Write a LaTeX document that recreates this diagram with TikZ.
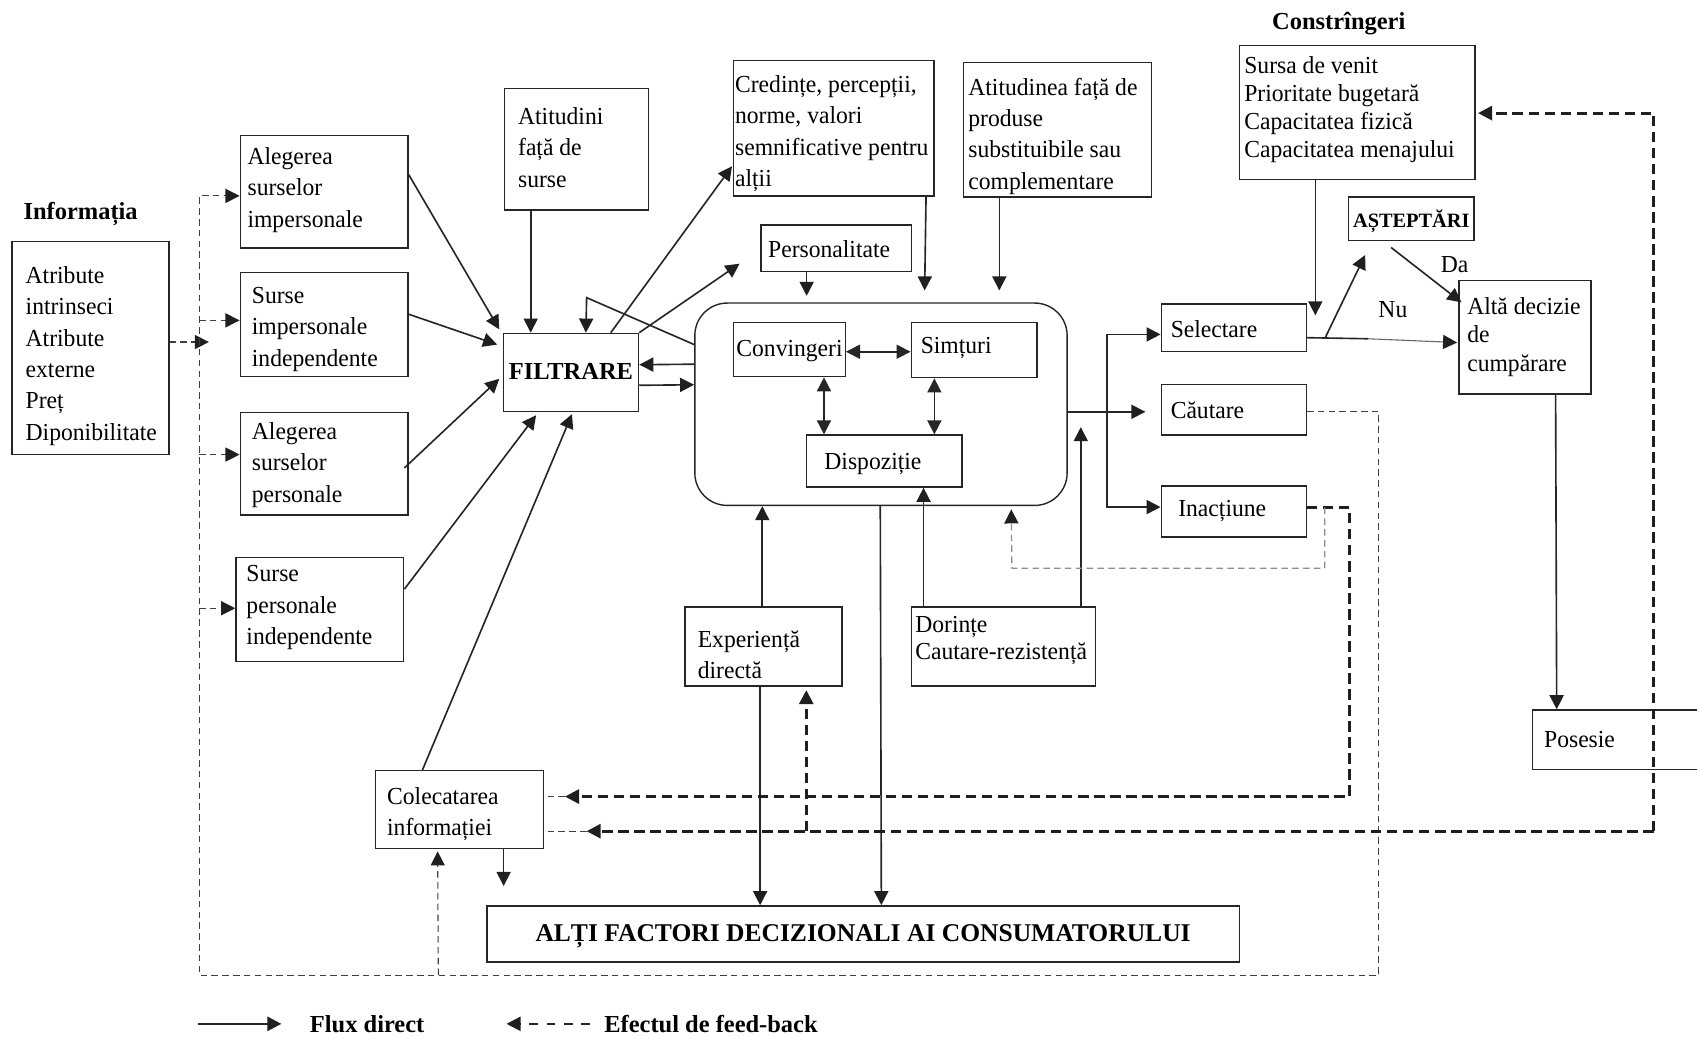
\documentclass[tikz,border=0pt]{standalone}
\usepackage{fontspec}
\setmainfont{Liberation Serif}[UprightFeatures={FakeStretch=0.965}]
\usetikzlibrary{arrows.meta,calc,fit}
\begin{document}
\begin{tikzpicture}[x=0.5pt,y=-0.5pt,
  bx/.style={draw=black!85,line width=0.65pt,inner sep=0pt,rectangle},
  tx/.style={inner sep=0pt,align=left,anchor=west,yshift=-1.2pt,font=\fontsize{11.3pt}{14.5pt}\selectfont},
  tc/.style={inner sep=0pt,align=center,yshift=-1.2pt,font=\fontsize{11.3pt}{14.5pt}\selectfont},
  hd/.style={inner sep=0pt,yshift=-1.2pt,font=\fontsize{11.3pt}{14.5pt}\selectfont\bfseries},
  tip/.style={-{Triangle[length=6.5pt,width=6.5pt,color=black!88]}},
  fl/.style={tip,line width=0.75pt,draw=black!85},
  dbl/.style={{Triangle[length=6.5pt,width=6.5pt]}-{Triangle[length=6.5pt,width=6.5pt]},line width=0.75pt,draw=black!85},
  fbthin/.style={dash pattern=on 3pt off 2pt,line width=0.5pt,draw=black!75},
  fbthick/.style={dash pattern=on 4.8pt off 2.6pt,line width=1.3pt,draw=black!88},
  fbgray/.style={dash pattern=on 3pt off 2pt,line width=0.6pt,draw=black!45},
]
\useasboundingbox (0,0) rectangle (1568,960);
\fill[white] (0,0) rectangle (1568,960);
\clip (0,0) rectangle (1568,960);

% ---------- headings ----------
\node[hd] (hinfo) at (74.5,195) {Informația};
\node[hd] (hconstr) at (1237,19) {Constrîngeri};

% ---------- boxes ----------
\node[bx,fit={(11,223) (156,420)}] (info) {};
\node[bx,fit={(222,125) (377,229)}] (b1) {};
\node[bx,fit={(222,252) (377,348)}] (b2) {};
\node[bx,fit={(222,381) (377,476)}] (b3) {};
\node[bx,fit={(218,515) (373,611)}] (b4) {};
\node[bx,fit={(465,308) (590,380)}] (filt) {};
\node[bx,fit={(466,82) (599,194)}] (atit) {};
\node[bx,fit={(678,56) (863,181)}] (cred) {};
\node[bx,fit={(703,208) (842,251)}] (pers) {};
\node[bx,fit={(890,58) (1064,182)}] (atprod) {};
\node[bx,rounded corners=15pt,fit={(642,280) (986,467)}] (big) {};
\node[bx,fit={(678,298) (781,348)}] (conv) {};
\node[bx,fit={(842,298) (958,349)}] (simt) {};
\node[bx,fit={(745,402) (889,450)}] (disp) {};
\node[bx,fit={(633,561) (778,634)}] (exp) {};
\node[bx,fit={(842,561) (1012,634)}] (dor) {};
\node[bx,fit={(347,712) (502,784)}] (col) {};
\node[bx,fit={(450,837) (1145,889)}] (alti) {};
\node[bx,fit={(1073,281) (1207,325)}] (sel) {};
\node[bx,fit={(1073,355) (1207,402)}] (caut) {};
\node[bx,fit={(1073,449) (1207,496)}] (inac) {};
\node[bx,fit={(1145,42) (1363,166)}] (constr) {};
\node[bx,fit={(1246,182) (1362,222)}] (ast) {};
\node[bx,fit={(1348,259) (1470,364)}] (alta) {};
\node[bx,fit={(1416,656) (1590,711)}] (pos) {};

% ---------- box texts ----------
\node[tx] (tinfo) at ($(info.west)+(13,5)$) {Atribute\\intrinseci\\Atribute\\externe\\Preț\\Diponibilitate};
\node[tx] (tb1) at ($(b1.west)+(7,-4)$) {Alegerea\\surselor\\impersonale};
\node[tx] (tb2) at ($(b2.west)+(11,2)$) {Surse\\impersonale\\independente};
\node[tx] (tb3) at ($(b3.west)+(11,-1.5)$) {Alegerea\\surselor\\personale};
\node[tx] (tb4) at ($(b4.west)+(10,-4)$) {Surse\\personale\\independente};
\node[hd] (tfilt) at ($(filt.center)+(0,-3)$) {FILTRARE};
\node[tx] (tatit) at ($(atit.west)+(13,-4)$) {Atitudini\\față de\\surse};
\node[tx] (tcred) at ($(cred.west)+(1.5,2.5)$) {Credințe, percepții,\\norme, valori\\semnificative pentru\\alții};
\node[tx] (tpers) at ($(pers.west)+(7,-2)$) {Personalitate};
\node[tx] (tatprod) at ($(atprod.west)+(5,3.5)$) {Atitudinea față de\\produse\\substituibile sau\\complementare};
\node[tc] (tconv) at ($(conv.center)+(0,-1)$) {Convingeri};
\node[tx] (tsimt) at ($(simt.west)+(9,-4)$) {Simțuri};
\node[tx] (tdisp) at ($(disp.west)+(17,0)$) {Dispoziție};
\node[tx] (texp) at ($(exp.west)+(12,5)$) {Experiență\\directă};
\node[tx,font=\fontsize{11.3pt}{12.5pt}\selectfont] (tdor) at ($(dor.west)+(4,-8)$) {Dorințe\\Cautare-rezistență};
\node[tx] (tcol) at ($(col.west)+(11,2)$) {Colecatarea\\informației};
\node[hd,font=\fontsize{11.8pt}{14.5pt}\selectfont\bfseries] (talti) at (alti.center) {ALȚI FACTORI DECIZIONALI AI CONSUMATORULUI};
\node[tx] (tsel) at ($(sel.west)+(9,-1.5)$) {Selectare};
\node[tx] (tcaut) at ($(caut.west)+(9,-1.5)$) {Căutare};
\node[tx] (tinac) at ($(inac.west)+(16,-3)$) {Inacțiune};
\node[tx,font=\fontsize{11.3pt}{13pt}\selectfont] (tconstr) at ($(constr.west)+(5,-5)$) {Sursa de venit\\Prioritate bugetară\\Capacitatea fizică\\Capacitatea menajului};
\node[hd,font=\fontsize{9.4pt}{12pt}\selectfont\bfseries] (tast) at (ast.center) {AȘTEPTĂRI};
\node[tx,font=\fontsize{11.3pt}{13pt}\selectfont] (talta) at ($(alta.west)+(8,-2.5)$) {Altă decizie\\de\\cumpărare};
\node[tx] (tpos) at ($(pos.west)+(11,-3)$) {Posesie};

% ---------- branch labels ----------
\node[tc] (lda) at (1344,242) {Da};
\node[tc] (lnu) at (1287,284) {Nu};

% ---------- information feed (thin dashed) ----------
\coordinate (lv1) at (184,181);
\coordinate (lv2) at (184,296);
\coordinate (lv3) at (184,420);
\coordinate (lv4) at (184,562);
\coordinate (lvb) at (184,901);
\coordinate (cb) at (1274,901);
\coordinate (cr) at (1274,380);
\coordinate (infoin) at (193,316);
\coordinate (colb) at (405,901);
\draw[fbthin,tip] ($(info.east)+(0,-5.5)$) -- (infoin);
\draw[fbthin,tip] ($(caut.east)+(0,1.5)$) -- (cr) -- (cb) -- (lvb) -- (lv1) -- (lv1 -| b1.west);
\draw[fbthin,tip] (lv2) -- (lv2 -| b2.west);
\draw[fbthin,tip] (lv3) -- (lv3 -| b3.west);
\draw[fbthin,tip] (lv4) -- (lv4 -| b4.west);
\draw[fbthin,tip] (colb) -- ($(col.south west)+(58,2)$);

% ---------- sources into FILTRARE ----------
\draw[fl] ($(b1.north east)+(0,37)$) -- ($(filt.north west)+(-3,-3)$);
\draw[fl] ($(b2.north east)+(0,39)$) -- ($(filt.north west)+(-5,11)$);
\draw[fl] ($(b3.north east)+(-4,52)$) -- ($(filt.west)+(-3,6)$);
\draw[fl] ($(b4.north east)+(0,30)$) -- ($(filt.south west)+(31,3)$);
\draw[fl] ($(col.north west)+(44,0)$) -- ($(filt.south)+(1,2)$);
\draw[fl] ($(atit.south west)+(25,0)$) -- ($(filt.north west)+(26,0)$);
\coordinate (lp) at (542,275);
\draw[fl] ($(big.north west)+(0,39)$) -- (lp) -- ($(filt.north west)+(77,0)$);
\draw[fl] ($(filt.north west)+(100,0)$) -- ($(cred.south west)+(-1,-28)$);
\draw[fl] (filt.north east) -- ($(pers.south west)+(-19,-8)$);
\draw[fl] ($(big.west)+(0,-37)$) -- ($(filt.east)+(0,-7)$);
\draw[fl] ($(filt.east)+(0,12)$) -- ($(big.west)+(0,-18)$);

% ---------- influences on the inner block ----------
\draw[fl] ($(pers.south west)+(43,0)$) -- ($(big.north west)+(104,-6)$);
\draw[fl] ($(cred.south east)+(-8,0)$) -- ($(big.north west)+(213,-11)$);
\draw[fl] ($(atprod.south west)+(34,0)$) -- ($(big.north west)+(282,-11)$);
\draw[dbl] ($(conv.east)+(0,2)$) -- ($(simt.west)+(0,1.5)$);
\draw[dbl] ($(conv.south west)+(84,0)$) -- ($(disp.north west)+(17,0)$);
\draw[dbl] ($(simt.south west)+(22,0)$) -- ($(disp.north west)+(119,0)$);

% ---------- lower part ----------
\draw[fl] ($(exp.north west)+(72,0)$) -- ($(big.south west)+(63,0)$);
\draw[fl] ($(exp.south west)+(70,0)$) -- ($(alti.north west)+(253,0)$);
\draw[fl] ($(big.south west)+(172,0)$) -- ($(alti.north west)+(365,0)$);
\draw[fl] ($(dor.north west)+(12,0)$) -- ($(disp.south west)+(109,0)$);
\draw[fl] ($(dor.north east)+(-14,0)$) -- ($(big.south east)+(12,-73)$);
\draw[fl] ($(col.south west)+(119,0)$) -- ($(col.south west)+(119,34)$);

% ---------- outcomes ----------
\coordinate (brm) at (1023,380.5);
\draw[fl] ($(big.east)+(0,7)$) -- ($(caut.west)+(-14,2)$);
\draw[fl] (brm) |- ($(sel.west)+(0,6)$);
\draw[fl] (brm) |- ($(inac.west)+(0,-4)$);
\draw[fl] ($(constr.south west)+(71,0)$) -- ($(sel.north west)+(143,11)$);
\draw[fl] ($(sel.south east)+(17,-14)$) -- ($(ast.south west)+(16,13)$);
\coordinate (nuk) at (1264,313);
\draw[line width=0.75pt,draw=black!85] ($(sel.east)+(0,9)$) -- (nuk);
\draw[fl,line width=0.5pt,draw=black!60] (nuk) -- ($(alta.west)+(-1,5)$);
\draw[fl] ($(ast.south west)+(40,6)$) -- ($(alta.north west)+(3,21)$);
\draw[fl] ($(alta.south west)+(90,0)$) -- ($(pos.north west)+(23,0)$);

% ---------- feed-back loops ----------
\coordinate (pr1) at (1528,104.5);
\coordinate (pr2) at (1528,768);
\coordinate (ca2) at (542,768);
\coordinate (ea) at (745,768);
\draw[fbthick,tip] (pr2) -- (pr1) -- ($(pr1 -| constr.east)+(2,0)$);
\draw[fbthick,tip] (pr2) -- (ca2);
\draw[fbthin] (ca2) -- (ca2 -| col.east);
\draw[fbthick,tip] (ea) -- ($(ea |- exp.south)+(0,3)$);

\coordinate (ir1) at (1247,469);
\coordinate (ir2) at (1247,736);
\coordinate (ca1) at (522,736);
\draw[fbthick,tip] ($(inac.east)+(0,-3.5)$) -- (ir1) -- (ir2) -- (ca1);
\draw[fbthin] (ca1) -- (ca1 -| col.east);

\coordinate (gr1) at (1224,469);
\coordinate (gr2) at (1224,525);
\coordinate (gr3) at (935,525);
\draw[fbgray,tip] (gr1) -- (gr2) -- (gr3) -- ($(big.south west)+(293,3)$);

% ---------- legend ----------
\coordinate (lg1) at (183,946);
\coordinate (lg2) at (260,946);
\coordinate (lg3) at (545,946);
\coordinate (lg4) at (468,946);
\draw[fl,line width=1.2pt] (lg1) -- (lg2);
\node[hd,anchor=west,yshift=0pt] (lflux) at (286,944) {Flux direct};
\draw[tip,line width=1pt,draw=black!85,dash pattern=on 4pt off 4pt] (lg3) -- (lg4);
\node[hd,anchor=west,yshift=0pt] (lfeed) at (558,944) {Efectul de feed-back};
\end{tikzpicture}
\end{document}
